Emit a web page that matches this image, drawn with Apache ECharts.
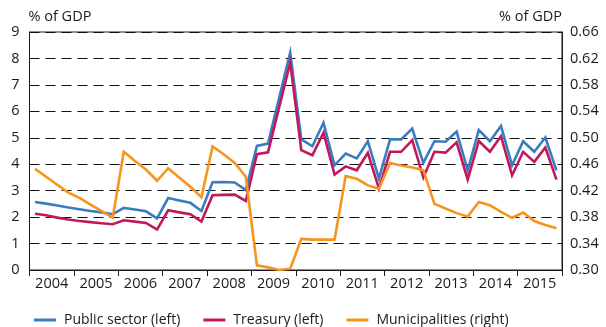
<!DOCTYPE html>
<html>
<head>
<meta charset="utf-8">
<script src="https://cdn.jsdelivr.net/npm/echarts@6/dist/echarts.min.js"></script>
<style>
  html, body { margin: 0; padding: 0; background: #fff; }
  #chart { width: 606px; height: 327px; }
</style>
</head>
<body>
<div id="chart"></div>
<script>
// Years shown on the horizontal axis; each year holds four quarterly values.
const years = ['2004', '2005', '2006', '2007', '2008', '2009', '2010', '2011', '2012', '2013', '2014', '2015'];

// Public sector borrowing, % of GDP (left axis), quarterly
const publicSector = [
  2.57, 2.51, 2.44, 2.36,
  2.30, 2.23, 2.18, 2.11,
  2.35, 2.29, 2.22, 1.95,
  2.72, 2.63, 2.54, 2.23,
  3.32, 3.33, 3.31, 3.02,
  4.69, 4.78, 6.50, 8.22,
  4.94, 4.68, 5.57, 3.96,
  4.40, 4.22, 4.87, 3.46,
  4.94, 4.94, 5.35, 4.05,
  4.87, 4.85, 5.23, 3.77,
  5.29, 4.87, 5.45, 3.96,
  4.87, 4.47, 5.01, 3.77
];

// Treasury, % of GDP (left axis), quarterly
const treasury = [
  2.13, 2.07, 1.98, 1.91,
  1.85, 1.81, 1.77, 1.73,
  1.88, 1.83, 1.78, 1.53,
  2.26, 2.18, 2.11, 1.83,
  2.83, 2.84, 2.85, 2.61,
  4.38, 4.45, 6.15, 7.84,
  4.53, 4.34, 5.19, 3.61,
  3.92, 3.77, 4.43, 3.08,
  4.47, 4.47, 4.91, 3.50,
  4.47, 4.44, 4.83, 3.42,
  4.88, 4.47, 5.06, 3.58,
  4.47, 4.09, 4.63, 3.42
];

// Municipalities, % of GDP (right axis), quarterly
const municipalities = [
  0.453, 0.441, 0.429, 0.417,
  0.409, 0.399, 0.389, 0.379,
  0.479, 0.465, 0.452, 0.435,
  0.454, 0.440, 0.426, 0.410,
  0.487, 0.475, 0.462, 0.441,
  0.307, 0.304, 0.300, 0.302,
  0.347, 0.346, 0.346, 0.346,
  0.442, 0.438, 0.428, 0.423,
  0.462, 0.458, 0.455, 0.451,
  0.400, 0.393, 0.386, 0.381,
  0.403, 0.398, 0.388, 0.379,
  0.387, 0.374, 0.368, 0.363
];

const FONT = 'Open Sans';
const TXT = '#1a1a1a';

// Place each quarterly value at the middle of its quarter on a continuous year scale.
function quarterly(values) {
  return values.map((v, i) => [(i + 0.5) / 4, v]);
}

const chart = echarts.init(document.getElementById('chart'), null, { renderer: 'canvas' });

const lineSeries = (name, values, color, yIndex) => ({
  name: name,
  type: 'line',
  xAxisIndex: 1,
  yAxisIndex: yIndex,
  data: quarterly(values),
  showSymbol: false,
  symbol: 'none',
  lineStyle: { color: color, width: 2.6, join: 'miter' },
  itemStyle: { color: color },
  animation: false
});

chart.setOption({
  animation: false,
  textStyle: { fontFamily: FONT, color: TXT },
  grid: {
    left: 29.5, right: 44, top: 32, bottom: 57,
    show: true, borderColor: '#1a1a1a', borderWidth: 1,
    backgroundColor: 'transparent'
  },
  legend: {
    left: 29, top: 308,
    itemWidth: 22, itemHeight: 3, itemGap: 23,
    icon: 'rect',
    textStyle: { fontFamily: FONT, fontSize: 14, color: TXT, padding: [0, 0, 0, 3] },
    data: ['Public sector (left)', 'Treasury (left)', 'Municipalities (right)']
  },
  xAxis: [
    {
      type: 'category',
      data: years,
      boundaryGap: true,
      position: 'bottom',
      axisLine: { show: true, lineStyle: { color: '#1a1a1a', width: 1 } },
      axisTick: { show: true, length: 6, interval: 0, lineStyle: { color: '#1a1a1a' } },
      axisLabel: { interval: 0, fontSize: 14.5, color: TXT, fontFamily: FONT, margin: 6 },
      splitLine: { show: false }
    },
    {
      type: 'value',
      min: 0, max: 12,
      show: false
    }
  ],
  yAxis: [
    {
      type: 'value',
      name: '% of GDP',
      nameLocation: 'end',
      nameGap: 8,
      nameTextStyle: { fontFamily: FONT, fontSize: 14.5, color: TXT, align: 'left', padding: [0, 0, 0, -1] },
      min: 0, max: 9, interval: 1,
      axisLine: { show: true, lineStyle: { color: '#1a1a1a' } },
      axisTick: { show: false },
      axisLabel: { fontSize: 14.5, color: TXT, fontFamily: FONT, margin: 10 },
      splitLine: { show: true, lineStyle: { color: '#111', width: 1.2, type: [10, 6] } }
    },
    {
      type: 'value',
      name: '% of GDP',
      nameLocation: 'end',
      nameGap: 8,
      nameTextStyle: { fontFamily: FONT, fontSize: 14.5, color: TXT, align: 'right', padding: [0, 0, 0, 0] },
      min: 0.30, max: 0.66, interval: 0.04,
      position: 'right',
      axisLine: { show: true, lineStyle: { color: '#1a1a1a' } },
      axisTick: { show: false },
      axisLabel: { fontSize: 14.5, color: TXT, fontFamily: FONT, margin: 8, formatter: v => v.toFixed(2) },
      splitLine: { show: false }
    }
  ],
  series: [
    lineSeries('Public sector (left)', publicSector, '#3b7cc0', 0),
    lineSeries('Treasury (left)', treasury, '#c2185b', 0),
    lineSeries('Municipalities (right)', municipalities, '#f7941d', 1)
  ]
});
</script>
</body>
</html>
